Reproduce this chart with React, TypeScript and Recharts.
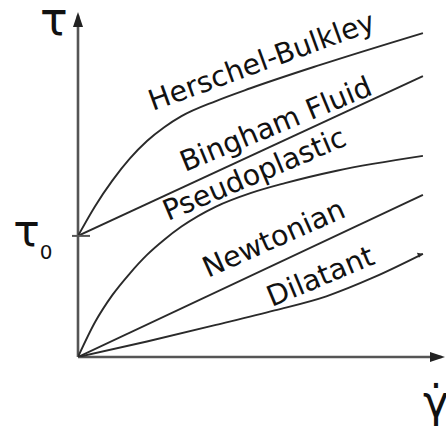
import React from 'react';
import { LineChart, Line, XAxis, YAxis, ReferenceDot, ReferenceLine } from 'recharts';

// Shear rate (x) and shear stress (y) in arbitrary units
const herschelX = [0, 5, 10, 15, 20, 25, 30, 40, 50, 70, 100];
const herschelY = [35.1, 43.8, 51.2, 57.5, 62.6, 66.6, 69.8, 74.2, 77.9, 84.6, 93.9];
const binghamX = [0, 100];
const binghamY = [35.1, 81.4];
const pseudoX = [0, 5, 10, 15, 20, 25, 30, 40, 50, 60, 75, 100];
const pseudoY = [0, 10.2, 18.0, 24.2, 29.6, 34.0, 37.8, 43.6, 47.5, 50.4, 54.0, 58.3];
const newtonX = [0, 100];
const newtonY = [0, 47.0];
const dilatantX = [0, 20, 40, 57, 72, 86, 100];
const dilatantY = [0, 4.5, 9.3, 13.5, 17.6, 23.2, 29.9];

const yieldStress = 35.1;
const xMax = 106.4;
const yMax = 100;

const seriesNames = ['Herschel-Bulkley', 'Bingham Fluid', 'Pseudoplastic', 'Newtonian', 'Dilatant'];

const toRows = (xs: number[], ys: number[]) => xs.map((x, i) => ({ x, y: ys[i] }));

const series = [
  toRows(herschelX, herschelY),
  toRows(binghamX, binghamY),
  toRows(pseudoX, pseudoY),
  toRows(newtonX, newtonY),
  toRows(dilatantX, dilatantY),
];

// label anchors (baseline start) and rotation
const labelAnchors = [
  { x: 21.7, y: 71.3, angle: -20 },
  { x: 31.0, y: 53.6, angle: -22.4 },
  { x: 26.1, y: 39.4, angle: -23 },
  { x: 37.7, y: 22.9, angle: -24 },
  { x: 56.2, y: 14.5, angle: -22.7 },
];

const FONT = '"DejaVu Sans", Verdana, sans-serif';
const LINE = '#2a2a2a';
const AXIS = '#555';

export default function App() {
  return (
    <div style={{ position: 'absolute', left: 0, top: 0, background: '#fff' }}>
      <LineChart width={446} height={427} margin={{ top: 12, right: 1, bottom: 70, left: 78 }}>
        <XAxis type="number" dataKey="x" domain={[0, xMax]} hide allowDataOverflow />
        <YAxis type="number" dataKey="y" domain={[0, yMax]} hide allowDataOverflow />
        <ReferenceLine
          segment={[{ x: 0, y: 0 }, { x: xMax - 1, y: 0 }]}
          stroke={AXIS}
          strokeWidth={2.6}
          ifOverflow="visible"
        />
        <ReferenceLine
          segment={[{ x: 0, y: 0 }, { x: 0, y: yMax - 1 }]}
          stroke={AXIS}
          strokeWidth={2.6}
          ifOverflow="visible"
        />
        {series.map((d, i) => (
          <Line
            key={seriesNames[i]}
            data={d}
            dataKey="y"
            type="monotone"
            stroke={LINE}
            strokeWidth={1.9}
            dot={false}
            isAnimationActive={false}
          />
        ))}
        <ReferenceLine
          segment={[{ x: -1.74, y: yieldStress }, { x: 3.48, y: yieldStress }]}
          stroke={AXIS}
          strokeWidth={2}
          ifOverflow="visible"
        />
        {seriesNames.map((name, i) => (
          <ReferenceDot
            key={'lbl' + name}
            x={labelAnchors[i].x}
            y={labelAnchors[i].y}
            r={1}
            ifOverflow="visible"
            shape={(p: any) => (
              <text
                x={p.cx}
                y={p.cy}
                fontFamily={FONT}
                fontSize={28.5}
                fill="#111"
                transform={`rotate(${labelAnchors[i].angle} ${p.cx} ${p.cy})`}
              >
                {name}
              </text>
            )}
          />
        ))}
        {/* y axis arrow */}
        <ReferenceDot
          x={0}
          y={yMax}
          r={1}
          ifOverflow="visible"
          shape={(p: any) => (
            <polygon
              points={`${p.cx},${p.cy} ${p.cx - 5},${p.cy + 15} ${p.cx + 5},${p.cy + 15}`}
              fill="#222"
            />
          )}
        />
        {/* x axis arrow */}
        <ReferenceDot
          x={xMax}
          y={0}
          r={1}
          ifOverflow="visible"
          shape={(p: any) => (
            <polygon
              points={`${p.cx},${p.cy} ${p.cx - 15},${p.cy - 5} ${p.cx - 15},${p.cy + 5}`}
              fill="#222"
            />
          )}
        />
        {/* dilatant small arrow */}
        <ReferenceDot
          x={dilatantX[dilatantX.length - 1]}
          y={dilatantY[dilatantY.length - 1]}
          r={1}
          ifOverflow="visible"
          shape={(p: any) => (
            <polygon
              points={`${p.cx},${p.cy} ${p.cx - 6},${p.cy - 1} ${p.cx - 4},${p.cy + 4}`}
              fill={LINE}
            />
          )}
        />
        {/* axis titles */}
        <ReferenceDot
          x={-11}
          y={93.3}
          r={1}
          ifOverflow="visible"
          shape={(p: any) => (
            <text x={p.cx} y={p.cy} fontFamily={FONT} fontSize={46} fill="#111">τ</text>
          )}
        />
        <ReferenceDot
          x={-18.8}
          y={32.2}
          r={1}
          ifOverflow="visible"
          shape={(p: any) => (
            <text x={p.cx} y={p.cy} fontFamily={FONT} fontSize={44} fill="#111">
              τ<tspan fontSize={20} dy={13}>0</tspan>
            </text>
          )}
        />
        <ReferenceDot
          x={100}
          y={-17.4}
          r={1}
          ifOverflow="visible"
          shape={(p: any) => (
            <text x={p.cx} y={p.cy} fontFamily={FONT} fontSize={44} fill="#111">γ̇</text>
          )}
        />
      </LineChart>
    </div>
  );
}
